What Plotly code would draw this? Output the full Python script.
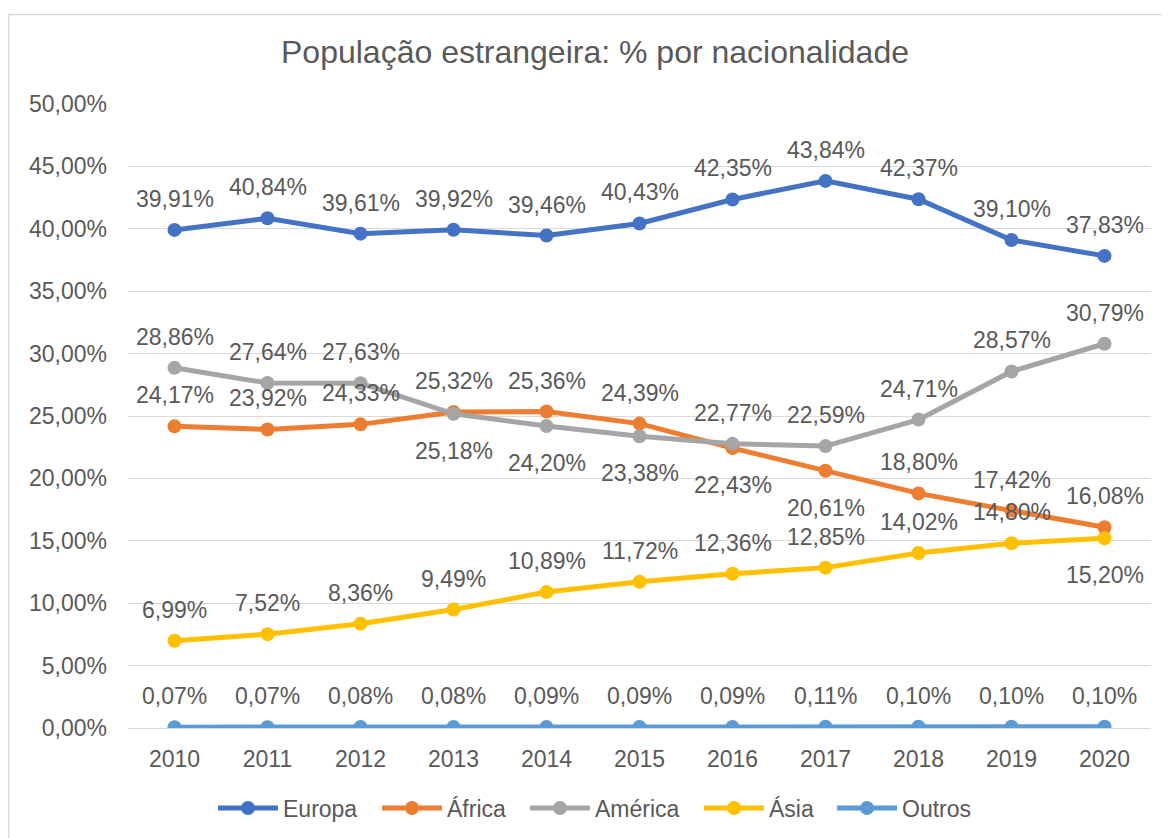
import plotly.graph_objects as go

years = ["2010", "2011", "2012", "2013", "2014", "2015", "2016", "2017", "2018", "2019", "2020"]
europa = [39.91, 40.84, 39.61, 39.92, 39.46, 40.43, 42.35, 43.84, 42.37, 39.10, 37.83]
africa = [24.17, 23.92, 24.33, 25.32, 25.36, 24.39, 22.43, 20.61, 18.80, 17.42, 16.08]
america = [28.86, 27.64, 27.63, 25.18, 24.20, 23.38, 22.77, 22.59, 24.71, 28.57, 30.79]
asia = [6.99, 7.52, 8.36, 9.49, 10.89, 11.72, 12.36, 12.85, 14.02, 14.80, 15.20]
outros = [0.07, 0.07, 0.08, 0.08, 0.09, 0.09, 0.09, 0.11, 0.10, 0.10, 0.10]

# label placement: 1 = above, -1 = below
europa_pos = [1] * 11
africa_pos = [1, 1, 1, 1, 1, 1, -1, -1, 1, 1, 1]
america_pos = [1, 1, 1, -1, -1, -1, 1, 1, 1, 1, 1]
asia_pos = [1] * 10 + [-1]
outros_pos = [1] * 11

series = [
    ("Europa", europa, europa_pos, "#4472C4", 89),
    ("África", africa, africa_pos, "#ED7D31", 73),
    ("América", america, america_pos, "#A5A5A5", 99),
    ("Ásia", asia, asia_pos, "#FFC000", 58),
    ("Outros", outros, outros_pos, "#5B9BD5", 70),
]

FONT = "Liberation Sans, Arial, sans-serif"
TXT = "#595959"
FS = 23

OFF = 8  # page body margin
W, H = 1170 - OFF, 838 - OFF
L = 128 - OFF
T = 104 - OFF
R = W - (1151 - OFF)
B = H - (728 - OFF)
pw, ph = W - L - R, H - T - B


def px_x(p):
    return (p - OFF - L) / pw


def px_y(p):
    return (H - B - (p - OFF)) / ph


fig = go.Figure()
annotations = []
for name, vals, pos, col, lw in series:
    yv = [v / 100 for v in vals]
    fig.add_trace(go.Scatter(
        x=years, y=yv, name=name, mode="lines+markers",
        legendwidth=lw,
        line=dict(color=col, width=5),
        marker=dict(color=col, size=14),
    ))
    for i, (y, v, p) in enumerate(zip(yv, vals, pos)):
        annotations.append(dict(
            x=i, y=y, xref="x", yref="y", showarrow=False,
            text=f"{v:.2f}%".replace(".", ","),
            yshift=31 if p > 0 else -37,
            font=dict(family=FONT, size=FS, color=TXT),
        ))

annotations.append(dict(
    x=px_x(595), y=px_y(52), xref="paper", yref="paper",
    showarrow=False, text="População estrangeira: % por nacionalidade",
    font=dict(family=FONT, size=32, color=TXT), xanchor="center", yanchor="middle",
))

fig.update_layout(
    width=W, height=H,
    margin=dict(l=L, r=R, t=T, b=B, pad=0, autoexpand=False),
    paper_bgcolor="white", plot_bgcolor="white",
    separators=",.",
    font=dict(family=FONT, size=FS, color=TXT),
    showlegend=True,
    legend=dict(
        orientation="h", xanchor="left", yanchor="middle",
        xref="container", yref="container",
        x=(223 - 10 - OFF) / W, y=(H - (808 - OFF)) / H,
        font=dict(family=FONT, size=FS, color=TXT),
        itemwidth=60,
    ),
    annotations=annotations,
    shapes=[dict(
        type="rect", xref="paper", yref="paper",
        x0=px_x(8.5), x1=px_x(1185),
        y0=px_y(850), y1=px_y(14.5),
        line=dict(color="#D9D9D9", width=1.5), layer="below",
    )],
)

fig.update_xaxes(
    type="category", range=[-0.5, 10.5], showgrid=False, showline=True,
    linecolor="#D9D9D9", linewidth=1, ticks="", ticklabelstandoff=10,
    tickfont=dict(family=FONT, size=FS, color=TXT), zeroline=False,
    automargin=False,
)
fig.update_yaxes(
    range=[0, 0.5], dtick=0.05, tickformat=".2%", showgrid=True,
    gridcolor="#D9D9D9", gridwidth=1, zeroline=False, showline=False,
    ticks="", ticklabelstandoff=20, automargin=False,
    tickfont=dict(family=FONT, size=FS, color=TXT),
)

fig.write_html("out.html")
